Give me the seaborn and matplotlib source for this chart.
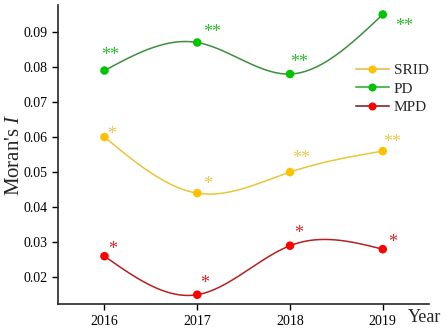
import numpy as np
import pandas as pd
import matplotlib
matplotlib.use("Agg")
import matplotlib.pyplot as plt
import seaborn as sns

# data
years = [2016, 2017, 2018, 2019]
srid = [0.060, 0.044, 0.050, 0.056]
pd_vals = [0.079, 0.087, 0.078, 0.095]
mpd = [0.026, 0.015, 0.029, 0.028]
srid_sig = ['*', '*', '**', '**']
pd_sig = ['**', '**', '**', '**']
mpd_sig = ['*', '*', '*', '*']
series_names = ['SRID', 'PD', 'MPD']

# where the significance stars sit relative to each point (pixels, right / up)
star_offsets = {
    'SRID': [(7, 6), (10, 12), (11, 17), (9, 12)],
    'PD': [(6, 18), (15, 13), (9, 15), (21, -9)],
    'MPD': [(8, 10), (7, 14), (9, 15), (10, 10)],
}


def natural_spline(x, y, n=200):
    # smooth connecting line through the points (natural cubic spline)
    x = np.asarray(x, float)
    y = np.asarray(y, float)
    k = len(x)
    h = np.diff(x)
    A = np.zeros((k, k))
    b = np.zeros(k)
    A[0, 0] = A[-1, -1] = 1
    for i in range(1, k - 1):
        A[i, i - 1] = h[i - 1]
        A[i, i] = 2 * (h[i - 1] + h[i])
        A[i, i + 1] = h[i]
        b[i] = 6 * ((y[i + 1] - y[i]) / h[i] - (y[i] - y[i - 1]) / h[i - 1])
    m = np.linalg.solve(A, b)
    xs = np.linspace(x[0], x[-1], n)
    idx = np.clip(np.searchsorted(x, xs) - 1, 0, k - 2)
    x0, x1 = x[idx], x[idx + 1]
    hh = x1 - x0
    t0, t1 = x1 - xs, xs - x0
    ys = (m[idx] * t0 ** 3 + m[idx + 1] * t1 ** 3) / (6 * hh) \
        + (y[idx] / hh - m[idx] * hh / 6) * t0 \
        + (y[idx + 1] / hh - m[idx + 1] * hh / 6) * t1
    return xs, ys


sns.set_style("ticks")
plt.rcParams['font.family'] = 'serif'
plt.rcParams['font.serif'] = ['Liberation Serif', 'Times New Roman', 'DejaVu Serif']
plt.rcParams['mathtext.fontset'] = 'custom'
plt.rcParams['mathtext.it'] = 'Liberation Serif:italic'
plt.rcParams['mathtext.rm'] = 'Liberation Serif'

fig, ax = plt.subplots(figsize=(4.47, 3.35), dpi=100)

styles = {
    'SRID': dict(line='#E8C53A', marker='#FFC000', sig=srid_sig, vals=srid, txt='#EBC84A'),
    'PD': dict(line='#3C8F3C', marker='#00C400', sig=pd_sig, vals=pd_vals, txt='#2DB82D'),
    'MPD': dict(line='#B52020', marker='#FF0000', sig=mpd_sig, vals=mpd, txt='#D42020'),
}

for name in series_names:
    st = styles[name]
    xs, ys = natural_spline(years, st['vals'])
    curve = pd.DataFrame({'x': xs, 'y': ys})
    sns.lineplot(data=curve, x='x', y='y', color=st['line'], lw=1.1, ax=ax)
    pts = pd.DataFrame({'x': years, 'y': st['vals']})
    sns.scatterplot(data=pts, x='x', y='y', color=st['marker'], s=38,
                    edgecolor='none', ax=ax, zorder=3)
    for x, y, s, off in zip(years, st['vals'], st['sig'], star_offsets[name]):
        ax.annotate(s, (x, y), xytext=(off[0], off[1] - 3), textcoords='offset pixels',
                    ha='center', va='center', color=st['txt'], fontsize=13)

# legend handles
handles = [plt.Line2D([], [], color=c, lw=1.5, marker='o', markersize=5.8,
                      markerfacecolor=m, markeredgecolor='none')
           for c, m in [('#E6C86E', '#FFC000'), ('#5CB85C', '#00C400'), ('#8B5050', '#FF0000')]]
ax.legend(handles, series_names, loc='upper right', bbox_to_anchor=(1.036, 0.85),
          frameon=False, fontsize=11, handlelength=2.2, handletextpad=0.3,
          labelspacing=0.3)

ax.set_xlim(2015.5, 2019.5)
ax.set_ylim(0.0123, 0.0977)
ax.set_xticks(years)
ax.set_yticks([0.02, 0.03, 0.04, 0.05, 0.06, 0.07, 0.08, 0.09])
ax.set_yticklabels(['0.02', '0.03', '0.04', '0.05', '0.06', '0.07', '0.08', '0.09'])
ax.tick_params(labelsize=10, length=4, width=1, colors='black')
for sp in ['left', 'bottom']:
    ax.spines[sp].set_linewidth(1.2)
sns.despine(ax=ax)

ax.set_xlabel('')
ax.set_ylabel("Moran's $\\mathit{I}$", fontsize=15, labelpad=0)
ax.text(0.987, -0.045, 'Year', transform=ax.transAxes, fontsize=13,
        ha='center', va='center')

plt.subplots_adjust(left=0.13, right=0.96, bottom=0.092, top=0.985)
plt.savefig('out.png', dpi=100)
plt.close()
